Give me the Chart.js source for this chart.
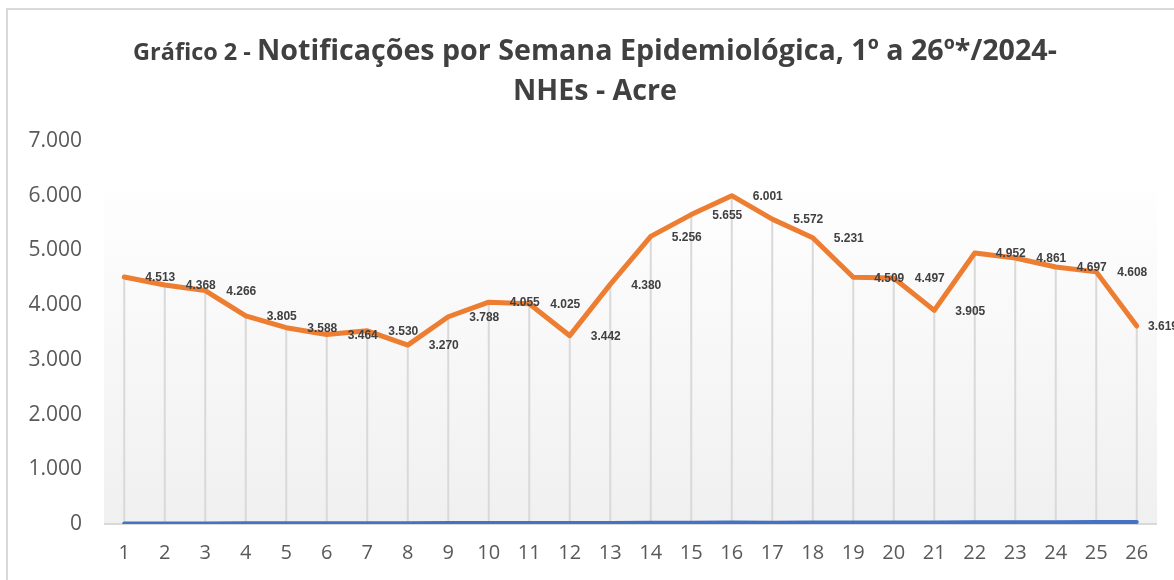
<!DOCTYPE html>
<html>
<head>
<meta charset="utf-8">
<script src="https://cdn.jsdelivr.net/npm/chart.js@4.4.1/dist/chart.umd.min.js"></script>
<style>
html,body{margin:0;padding:0;background:#ffffff;}
#wrap{width:1174px;height:580px;}
</style>
</head>
<body>
<div id="wrap"><canvas id="c" width="1174" height="580"></canvas></div>
<script>
// ---- data ----
const semanas = ['1','2','3','4','5','6','7','8','9','10','11','12','13','14','15','16','17','18','19','20','21','22','23','24','25','26'];
const notificacoes = [4513, 4368, 4266, 3805, 3588, 3464, 3530, 3270, 3788, 4055, 4025, 3442, 4380, 5256, 5655, 6001, 5572, 5231, 4509, 4497, 3905, 4952, 4861, 4697, 4608, 3619];
const serieAzul = [8, 10, 9, 12, 14, 13, 15, 12, 16, 18, 20, 17, 19, 22, 24, 26, 25, 28, 27, 26, 29, 31, 33, 32, 35, 36];
const yTicks = [0, 1000, 2000, 3000, 4000, 5000, 6000, 7000];
const titlePrefix = 'Gráfico 2 - ';
const titleMain = 'Notificações por Semana Epidemiológica, 1º a 26º*/2024-';
const titleLine2 = 'NHEs - Acre';

function fmt(v){ return String(v).replace(/\B(?=(\d{3})+(?!\d))/g, '.'); }

const decor = {
  id: 'decor',
  beforeDatasetsDraw(chart){
    const ctx = chart.ctx, a = chart.chartArea;
    const y = chart.scales.y;
    const zeroY = y.getPixelForValue(0);
    const pTop = a.top + 50;
    const g = ctx.createLinearGradient(0, pTop, 0, zeroY);
    g.addColorStop(0, '#fefefe');
    g.addColorStop(1, '#f0f0f0');
    ctx.save();
    ctx.fillStyle = g;
    ctx.fillRect(a.left, pTop, a.right - a.left, zeroY - pTop);
    const meta = chart.getDatasetMeta(1);
    ctx.strokeStyle = '#d9d9d9';
    ctx.lineWidth = 2;
    meta.data.forEach(p => {
      ctx.beginPath();
      ctx.moveTo(p.x, p.y);
      ctx.lineTo(p.x, zeroY);
      ctx.stroke();
    });
    ctx.beginPath();
    ctx.moveTo(a.left, zeroY);
    ctx.lineTo(a.right, zeroY);
    ctx.stroke();
    ctx.restore();
  },
  afterDatasetsDraw(chart){
    const ctx = chart.ctx;
    const meta = chart.getDatasetMeta(1);
    ctx.save();
    ctx.font = 'bold 12px "Liberation Sans", Arial, sans-serif';
    ctx.fillStyle = '#404040';
    ctx.textAlign = 'left';
    ctx.textBaseline = 'middle';
    meta.data.forEach((p, i) => {
      const t = fmt(notificacoes[i]);
      const w = ctx.measureText(t).width;
      const x = Math.min(p.x + 21, chart.width + 4 - w);
      ctx.fillText(t, x, p.y + 1);
    });
    ctx.restore();
  },
  afterDraw(chart){
    const ctx = chart.ctx;
    ctx.save();
    ctx.strokeStyle = '#d9d9d9';
    ctx.lineWidth = 2;
    ctx.strokeRect(7, 9, 1200, 700);
    ctx.fillStyle = '#404040';
    ctx.textBaseline = 'alphabetic';
    ctx.textAlign = 'left';
    const fam = '"Open Sans", sans-serif';
    ctx.font = 'bold 26px ' + fam;
    let wMain = ctx.measureText(titleMain).width;
    const sMain = 26 * 800 / wMain;
    ctx.font = 'bold ' + sMain.toFixed(2) + 'px ' + fam;
    wMain = ctx.measureText(titleMain).width;
    ctx.font = 'bold 18px ' + fam;
    let wPre = ctx.measureText(titlePrefix).width;
    const sPre = 18 * 124 / wPre;
    ctx.font = 'bold ' + sPre.toFixed(2) + 'px ' + fam;
    wPre = ctx.measureText(titlePrefix).width;
    const cx = 595;
    const x0 = cx - (wPre + wMain) / 2;
    ctx.fillText(titlePrefix, x0, 60);
    ctx.font = 'bold ' + sMain.toFixed(2) + 'px ' + fam;
    ctx.fillText(titleMain, x0 + wPre, 60);
    ctx.textAlign = 'center';
    ctx.fillText(titleLine2, cx, 100);
    ctx.restore();
  }
};

new Chart(document.getElementById('c'), {
  type: 'line',
  data: {
    labels: semanas,
    datasets: [
      {
        label: 'Série azul',
        data: serieAzul,
        borderColor: '#4472C4',
        borderWidth: 4,
        pointRadius: 0,
        tension: 0,
        borderCapStyle: 'round',
        order: 1
      },
      {
        label: 'Notificações',
        data: notificacoes,
        borderColor: '#ED7D31',
        borderWidth: 5,
        pointRadius: 0,
        tension: 0,
        borderCapStyle: 'round',
        borderJoinStyle: 'round',
        order: 0
      }
    ]
  },
  options: {
    responsive: false,
    animation: false,
    layout: { padding: { top: 141, right: 17, bottom: 0, left: 0 } },
    plugins: { legend: { display: false }, title: { display: false }, tooltip: { enabled: false } },
    scales: {
      x: {
        offset: true,
        grid: { display: false },
        border: { display: false },
        ticks: { color: '#595959', font: { family: '"Open Sans", sans-serif', size: 20 }, padding: 9, maxRotation: 0, autoSkip: false },
        afterFit(s){ s.height = 56; }
      },
      y: {
        min: 0,
        max: 7000,
        grid: { display: false },
        border: { display: false },
        afterBuildTicks(s){ s.ticks = yTicks.map(v => ({ value: v })); },
        ticks: {
          color: '#595959',
          font: { family: '"Open Sans", sans-serif', size: 21 },
          padding: 14,
          callback: v => fmt(v)
        },
        afterFit(s){ s.width = 104; }
      }
    }
  },
  plugins: [decor]
});
</script>
</body>
</html>
